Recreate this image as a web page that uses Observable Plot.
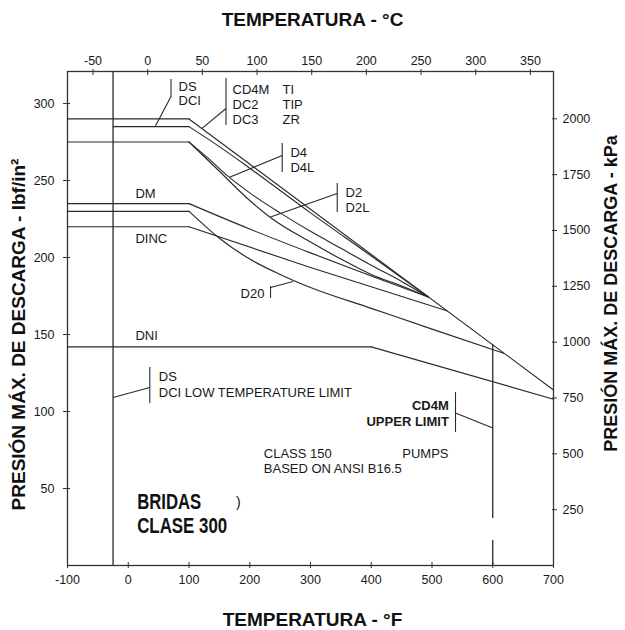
<!DOCTYPE html>
<html>
<head>
<meta charset="utf-8">
<script src="https://cdn.jsdelivr.net/npm/d3@7"></script>
<script src="https://cdn.jsdelivr.net/npm/@observablehq/plot@0.6"></script>
<style>
  html, body { margin: 0; padding: 0; background: #fff; }
  #chart svg { display: block; }
</style>
</head>
<body>
<div id="chart"></div>
<script>
// ---- axis ticks ----
const xTicksF = [-100, 0, 100, 200, 300, 400, 500, 600, 700];
const xTicksC = [-50, 0, 50, 100, 150, 200, 250, 300, 350];
const yTicksPsi = [50, 100, 150, 200, 250, 300];
const yTicksKpa = [250, 500, 750, 1000, 1250, 1500, 1750, 2000];
const KPA_PER_PSI = 6.894757;

// ---- series: [temperature °F, pressure psi] ----
const serCD4M = [[-100, 290], [100, 290], [700, 114]];          // CD4M DC2 DC3 TI TIP ZR
const serDS = [[-25, 285], [100, 285], [150, 272], [200, 258], [300, 229], [400, 201], [494, 174.4]]; // DS DCI
const serD4 = [[-100, 275], [100, 275], [130, 265], [165, 252.5], [200, 242], [250, 229], [300, 217], [350, 206], [400, 195], [450, 184.5], [494, 174.4]];
const serD2 = [[100, 275], [150, 256], [200, 237], [234, 226], [300, 210], [350, 199], [400, 189], [450, 181.5], [494, 174.4]];
const serDM = [[-100, 235], [100, 235], [200, 218.5], [300, 203], [400, 188], [494, 174.4]];
const serD20 = [[-100, 230], [100, 230], [125, 221], [150, 212.5], [200, 199], [250, 189], [300, 180.5], [400, 167], [500, 153.5], [618, 137.8]];
const serDINC = [[-100, 220], [100, 220], [300, 193.5], [525, 165.3]];
const serDNI = [[-100, 142], [400, 142], [700, 108]];
const allSeries = [serCD4M, serDS, serD4, serD2, serDM, serD20, serDINC, serDNI];

// ---- limits (vertical lines) ----
const limitRules = [
  {f: -25, p1: 0, p2: 320.8},     // DS / DCI low temperature limit
  {f: 600, p1: 143.3, p2: 30.5},  // CD4M upper limit
  {f: 600, p1: 16.2, p2: 0}
];

// ---- annotations (data units) ----
const notes = [
  {f: 82.7, p: 311, t: "DS"}, {f: 82.7, p: 302, t: "DCI"},
  {f: 171.6, p: 309.1, t: "CD4M"}, {f: 171.6, p: 299.4, t: "DC2"}, {f: 171.6, p: 289.6, t: "DC3"},
  {f: 253.9, p: 309.1, t: "TI"}, {f: 253.9, p: 299.4, t: "TIP"}, {f: 253.9, p: 289.6, t: "ZR"},
  {f: 267, p: 268.2, t: "D4"}, {f: 267, p: 258.4, t: "D4L"},
  {f: 357.8, p: 242.2, t: "D2"}, {f: 357.8, p: 232.5, t: "D2L"},
  {f: 11.9, p: 241.6, t: "DM"}, {f: 11.9, p: 212.3, t: "DINC"}, {f: 11.9, p: 149, t: "DNI"},
  {f: 184.8, p: 176.6, t: "D20"},
  {f: 50.3, p: 122.7, t: "DS"}, {f: 50.3, p: 112.3, t: "DCI LOW TEMPERATURE LIMIT"},
  {f: 223.1, p: 72.7, t: "CLASS 150"}, {f: 223.1, p: 63, t: "BASED ON ANSI B16.5"}
];
const notesEnd = [{f: 527.2, p: 72.7, t: "PUMPS"}];
const notesBold = [{f: 527.7, p: 103.9, t: "CD4M"}, {f: 527.7, p: 93.5, t: "UPPER LIMIT"}];
const flangeNote = [{f: 14.7, p: 41.2, t: "BRIDAS"}, {f: 14.7, p: 26, t: "CLASE 300"}];
const flangeMark = [{f: 181, p: 40.6, t: ")"}];

const brackets = [
  {f: 70.4, p1: 315.6, p2: 303.9},
  {f: 160.9, p1: 316.2, p2: 285.7},
  {f: 253.4, p1: 274, p2: 255.2},
  {f: 344, p1: 248, p2: 229.2},
  {f: 234.2, p1: 181.2, p2: 173.4},
  {f: 35.5, p1: 128.6, p2: 105.2},
  {f: 538.7, p1: 112.3, p2: 86.4}
];
const leaders = [
  {f1: 70.4, p1: 304.5, f2: 44.9, p2: 285.5},
  {f1: 160.9, p1: 296.8, f2: 122, p2: 284},
  {f1: 253.4, p1: 266.2, f2: 166.7, p2: 252.2},
  {f1: 344, p1: 241.6, f2: 234.2, p2: 226.3},
  {f1: 234.2, p1: 180.5, f2: 271.2, p2: 184.4},
  {f1: 35.5, p1: 115.6, f2: -25, p2: 109.1},
  {f1: 538.7, p1: 99, f2: 600, p2: 89.3}
];

const INK = "#2a2a2a";
const FONT = "'Liberation Sans', Arial, Helvetica, sans-serif";

// split each series at its knee: flat part straight, falling part smooth
function seriesMarks(s) {
  let k = 0;
  while (k + 1 < s.length && s[k + 1][1] === s[0][1]) k++;
  const opts = {x: d => d[0], y: d => d[1], stroke: INK, strokeWidth: 1.15};
  const out = [];
  if (k > 0) out.push(Plot.line(s.slice(0, k + 1), opts));
  out.push(Plot.line(s.slice(k), {...opts, curve: "monotone-x"}));
  return out;
}

const chart = Plot.plot({
  width: 625,
  height: 630,
  marginLeft: 67,
  marginRight: 72,
  marginTop: 71,
  marginBottom: 65,
  x: {domain: [-100, 700]},
  y: {domain: [0, 320.8]},
  style: {fontFamily: FONT, background: "#fff", color: "#1a1a1a", overflow: "visible"},
  marks: [
    Plot.frame({stroke: "#333", strokeWidth: 1.3}),
    Plot.axisX({anchor: "bottom", ticks: xTicksF, tickFormat: d => String(d), tickSize: 6, dy: -3, tickPadding: 7, fontSize: 12.5, stroke: "#333", label: null}),
    Plot.axisX({anchor: "top", ticks: xTicksC.map(c => c * 1.8 + 32), tickFormat: f => String(Math.round((f - 32) / 1.8)), tickSize: 6, dy: 3, tickPadding: 4, fontSize: 12.5, stroke: "#333", label: null}),
    Plot.axisY({anchor: "left", ticks: yTicksPsi, tickFormat: d => String(d), tickSize: 7, dx: 3, tickPadding: 9, fontSize: 12.5, stroke: "#333", label: null}),
    Plot.axisY({anchor: "right", ticks: yTicksKpa.map(k => k / KPA_PER_PSI), tickFormat: p => String(Math.round(p * KPA_PER_PSI / 250) * 250), tickSize: 5, dx: -2, tickPadding: 6, fontSize: 12.5, stroke: "#333", label: null}),

    ...allSeries.flatMap(seriesMarks),

    Plot.ruleX(limitRules, {x: "f", y1: "p1", y2: "p2", stroke: INK, strokeWidth: 1.3}),

    Plot.ruleX(brackets, {x: "f", y1: "p1", y2: "p2", stroke: INK, strokeWidth: 1.1}),
    Plot.link(leaders, {x1: "f1", y1: "p1", x2: "f2", y2: "p2", stroke: INK, strokeWidth: 1.1}),

    Plot.text(notes, {x: "f", y: "p", text: "t", textAnchor: "start", lineAnchor: "middle", fontSize: 13, fill: "#1a1a1a"}),
    Plot.text(notesEnd, {x: "f", y: "p", text: "t", textAnchor: "end", lineAnchor: "middle", fontSize: 13, fill: "#1a1a1a"}),
    Plot.text(notesBold, {x: "f", y: "p", text: "t", textAnchor: "end", lineAnchor: "middle", fontSize: 13, fontWeight: "bold", fill: "#1a1a1a"}),
    Plot.text(flangeNote, {x: "f", y: "p", text: "t", textAnchor: "start", lineAnchor: "middle", fontSize: 22, fontWeight: "bold", fill: "#111"}),
    Plot.text(flangeMark, {x: "f", y: "p", text: "t", textAnchor: "middle", lineAnchor: "middle", fontSize: 14, fill: "#111"}),

    Plot.text(["TEMPERATURA - °C"], {frameAnchor: "top", dx: 2, dy: -52, lineAnchor: "middle", fontSize: 19, fontWeight: "bold", fill: "#111"}),
    Plot.text(["TEMPERATURA - °F"], {frameAnchor: "bottom", dx: 2, dy: 54, lineAnchor: "middle", fontSize: 19, fontWeight: "bold", fill: "#111"}),
    Plot.text(["PRESIÓN MÁX. DE DESCARGA - lbf/in²"], {frameAnchor: "left", dx: -49, dy: 16, rotate: -90, lineAnchor: "middle", textAnchor: "middle", fontSize: 19, fontWeight: "bold", fill: "#111"}),
    Plot.text(["PRESIÓN MÁX. DE DESCARGA - kPa"], {frameAnchor: "right", dx: 58, dy: -25, rotate: -90, lineAnchor: "middle", textAnchor: "middle", fontSize: 18, fontWeight: "bold", fill: "#111"})
  ]
});

// condensed look of the flange label
const condensed = {"BRIDAS": 64, "CLASE 300": 90};
d3.select(chart).selectAll("text").each(function () {
  const w = condensed[this.textContent];
  if (w) d3.select(this).attr("textLength", w).attr("lengthAdjust", "spacingAndGlyphs");
});

document.getElementById("chart").appendChild(chart);
</script>
</body>
</html>
